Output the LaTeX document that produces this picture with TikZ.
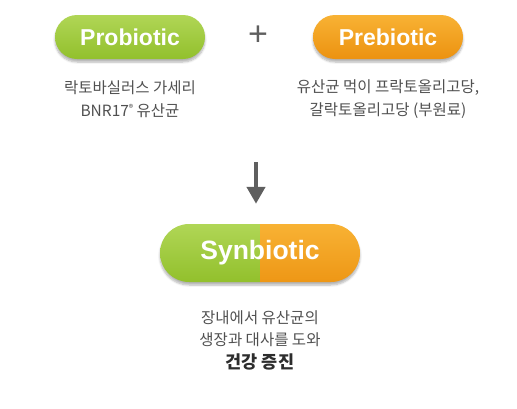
\documentclass[tikz,border=0pt]{standalone}
\usepackage{fontspec}
\setmainfont{Liberation Sans}
\newfontfamily\kofont{Noto Sans CJK KR}
\usetikzlibrary{arrows.meta,shadows.blur,calc}
\definecolor{vertPro}{RGB}{146,192,44}
\definecolor{vertClair}{RGB}{176,214,86}
\definecolor{orangePre}{RGB}{236,146,16}
\definecolor{orangeClair}{RGB}{248,178,52}
\definecolor{grisTexte}{RGB}{80,80,80}
\definecolor{grisFonce}{RGB}{45,45,45}
\definecolor{grisFleche}{RGB}{95,95,95}

\begin{document}
\begin{tikzpicture}[x=1pt,y=-1pt,
  pilule/.style={rectangle,inner sep=0pt,text=white,
                 font=\fontsize{23}{23}\selectfont\bfseries,
                 blur shadow={shadow xshift=0pt,shadow yshift=-3pt,
                              shadow opacity=30,shadow blur steps=6}},
  legende/.style={align=center,text=grisTexte,
                  font=\kofont\fontsize{15.5}{22.5}\selectfont}]
  \useasboundingbox (0,0) rectangle (517,408);

  \node[pilule,minimum width=150pt,minimum height=44pt,rounded corners=22pt,
        top color=vertClair,bottom color=vertPro] (probio) at (130,37) {Probiotic};
  \node[pilule,minimum width=150pt,minimum height=44pt,rounded corners=22pt,
        top color=orangeClair,bottom color=orangePre] (prebio) at (388,37) {Prebiotic};
  \node[text=grisFleche,font=\fontsize{34}{34}\selectfont] (plus) at (258,36) {+};

  \node[legende] (probioTxt) at (130,99)
    {락토바실러스 가세리\\BNR17\raisebox{0.55ex}{\fontsize{9}{9}\selectfont ®} 유산균};
  \node[legende] (prebioTxt) at (388,99)
    {유산균 먹이 프락토올리고당,\\갈락토올리고당 (부원료)};

  \node[pilule,minimum width=200pt,minimum height=58pt,rounded corners=29pt,
        font=\fontsize{26.5}{26.5}\selectfont\bfseries,
        path picture={
          \shade[sharp corners,top color=vertClair,bottom color=vertPro]
            (path picture bounding box.south west) rectangle (path picture bounding box.north);
          \shade[sharp corners,top color=orangeClair,bottom color=orangePre!85!orangeClair]
            (path picture bounding box.south) rectangle (path picture bounding box.north east);
        }] (synbio) at (260,253) {Synbiotic};

  \node[legende] (synbioTxt) at (260,340)
    {장내에서 유산균의\\생장과 대사를 도와\\{\color{grisFonce}\bfseries\fontsize{17.5}{22.5}\selectfont 건강 증진}};

  \coordinate (flecheHaut) at (256,162);
  \draw[-{Triangle[width=18pt,length=17pt]},grisFleche,line width=4.5pt,shorten >=20pt]
    (flecheHaut) -- (flecheHaut |- synbio.north);
\end{tikzpicture}
\end{document}
